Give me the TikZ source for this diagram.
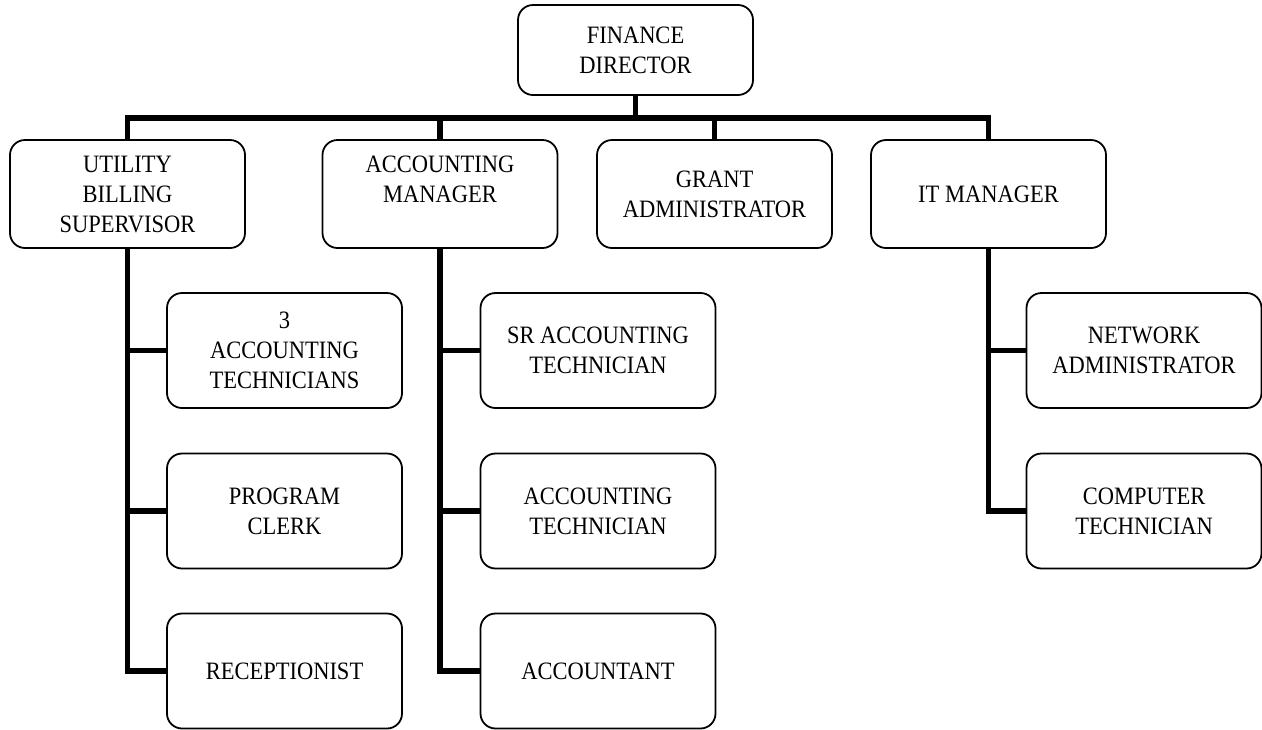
\documentclass[tikz,border=0pt]{standalone}
\usepackage{fontspec}
\setmainfont{Liberation Serif}[FakeStretch=0.9]
\begin{document}
\begin{tikzpicture}[x=0.5pt,y=-0.5pt,
  every node/.style={font=\fontsize{12.5}{15}\selectfont},
  orgbox/.style={draw, line width=0.9pt, rounded corners=7.5pt, fill=white,
    minimum width=117.5pt, align=center, inner sep=0pt},
  toprow/.style={orgbox, minimum height=54pt},
  subrow/.style={orgbox, minimum height=57.5pt},
  link/.style={line width=2.7pt, line join=miter}]
\useasboundingbox (0,0) rectangle (1262,729);

% Director
\node[orgbox, minimum height=45pt] (fd) at (635.5,50) {FINANCE\\DIRECTOR};

% Managers
\node[toprow] (ub) at (127.5,194) {UTILITY\\BILLING\\SUPERVISOR};
\node[toprow] (am) at (440,194)   {ACCOUNTING\\MANAGER\\\mbox{}};
\node[toprow] (ga) at (714.5,194) {GRANT\\ADMINISTRATOR};
\node[toprow] (it) at (988.5,194) {IT MANAGER};

% Utility billing staff
\node[subrow] (ub1) at (284.5,350.5) {3\\ACCOUNTING\\TECHNICIANS};
\node[subrow] (ub2) at (284.5,511)   {PROGRAM\\CLERK};
\node[subrow] (ub3) at (284.5,671)   {RECEPTIONIST};

% Accounting staff
\node[subrow] (am1) at (598,350.5) {SR ACCOUNTING\\TECHNICIAN};
\node[subrow] (am2) at (598,511)   {ACCOUNTING\\TECHNICIAN};
\node[subrow] (am3) at (598,671)   {ACCOUNTANT};

% IT staff
\node[subrow] (it1) at (1144,350.5) {NETWORK\\ADMINISTRATOR};
\node[subrow] (it2) at (1144,511)   {COMPUTER\\TECHNICIAN};

% Bus under the director
\coordinate (bus) at (0,118);
\foreach \m in {ub,am,ga,it}
  \draw[link] (fd.south) -- (fd.south |- bus) -| (\m.north);

% Branches to staff
\foreach \m/\c in {ub/ub1,ub/ub2,ub/ub3,am/am1,am/am2,am/am3,it/it1,it/it2}
  \draw[link] (\m.south) |- (\c.west);
\end{tikzpicture}
\end{document}
